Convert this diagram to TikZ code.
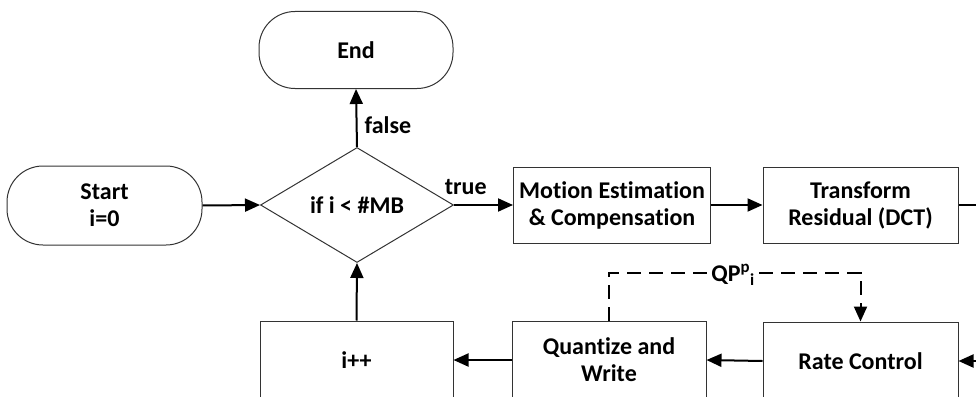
\documentclass[tikz,border=0pt]{standalone}
\usepackage{fontspec}
\setmainfont{Carlito}[Ligatures={NoCommon}]
\usetikzlibrary{arrows.meta,shapes.geometric}
\begin{document}
\begin{tikzpicture}[x=1pt,y=-1pt,
  every node/.style={font=\fontsize{24}{27}\selectfont\bfseries, align=center},
  shapebox/.style={draw=black!80, line width=1pt, inner sep=0pt},
  procbox/.style={shapebox, rectangle},
  termbox/.style={shapebox, rectangle, rounded corners=36pt},
  decbox/.style={shapebox, diamond, aspect=1.7},
  flow/.style={line width=2pt, -{Triangle[length=15pt,width=13pt]}},
  feedback/.style={line width=2pt, dash pattern=on 14pt off 8pt, -{Triangle[length=15pt,width=13pt]}},
  lbl/.style={font=\fontsize{24}{27}\selectfont\bfseries, inner sep=2pt}
]
\useasboundingbox (0,0) rectangle (976,396);
\clip (0,0) rectangle (976,396);

% terminals
\node[termbox, minimum width=194pt, minimum height=77pt] (end) at (356,50) {End};
\node[termbox, minimum width=195pt, minimum height=79pt] (start) at (104.5,205.5) {Start\\i=0};

% decision
\node[decbox, minimum width=193pt, minimum height=115pt] (cond) at (357,205) {if i < \#MB};

% processing steps
\node[procbox, minimum width=197pt, minimum height=76pt] (motion) at (612,205) {Motion Estimation\\\& Compensation};
\node[procbox, minimum width=195pt, minimum height=76pt] (dct) at (860.5,205) {Transform\\Residual (DCT)};
\node[procbox, minimum width=195pt, minimum height=78pt] (rate) at (860.5,361) {Rate Control};
\node[procbox, minimum width=194pt, minimum height=78pt] (quant) at (609,360) {Quantize and\\Write};
\node[procbox, minimum width=193pt, minimum height=78pt] (inc) at (356.5,360) {i++};

% connections leaving and entering the visible area
\coordinate (dctout) at (985,205);
\coordinate (ratein) at (985,361);

\draw[flow] (start.east) -- (cond.west);
\draw[flow] (cond.north) -- node[lbl, right=5pt, pos=0.38] {false} (end.south);
\draw[flow] (cond.east) -- node[lbl, above=7pt, pos=0.2] {true} (motion.west);
\draw[flow] (motion.east) -- (dct.west);
\draw[line width=2pt] (dct.east) -- (dctout);
\draw[flow] (ratein) -- (rate.east);
\draw[flow] (rate.west) -- (quant.east);
\draw[flow] (quant.west) -- (inc.east);
\draw[flow] (inc.north) -- (cond.south);

% quantization parameter feedback
\draw[feedback] (quant.north) -- ++(0,-48) coordinate (qpturn) -| (rate.north);
\node[lbl, fill=white, inner sep=1pt] (qp) at (733,275) {QP\textsuperscript{p}\textsubscript{i}};
\end{tikzpicture}
\end{document}
